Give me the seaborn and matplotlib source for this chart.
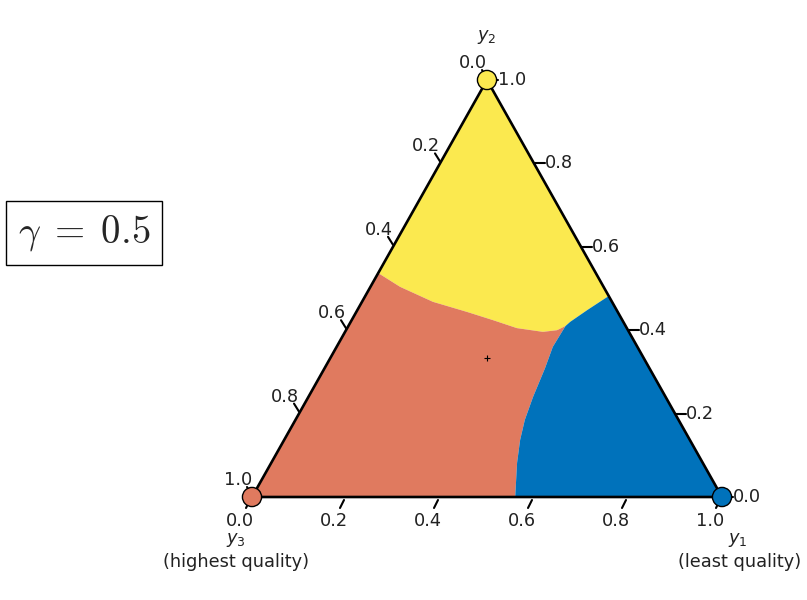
import numpy as np
import matplotlib
matplotlib.use("Agg")
import matplotlib.pyplot as plt
import seaborn as sns

# ---- data (barycentric: y1 = bottom axis, y2 = right axis, y3 = 1 - y1 - y2) ----
tick_vals = [0.0, 0.2, 0.4, 0.6, 0.8, 1.0]
tick_labels = ["0.0", "0.2", "0.4", "0.6", "0.8", "1.0"]

# yellow / red boundary, left edge -> triple point
yr_y1 = [0.0, 0.063, 0.151, 0.235, 0.301, 0.361, 0.421, 0.449, 0.462]
yr_y2 = [0.537, 0.504, 0.468, 0.444, 0.424, 0.405, 0.396, 0.400, 0.410]
# yellow / blue boundary, triple point -> right edge
yb_y1 = [0.462, 0.467, 0.489, 0.518]
yb_y2 = [0.410, 0.420, 0.448, 0.482]
# red / blue boundary, triple point -> bottom edge
rb_y1 = [0.462, 0.460, 0.469, 0.478, 0.488, 0.502, 0.523, 0.560]
rb_y2 = [0.410, 0.360, 0.309, 0.240, 0.185, 0.137, 0.082, 0.0]

vert_y1 = [1.0, 0.0, 0.0]
vert_y2 = [0.0, 1.0, 0.0]
vert_col = ["#0072BB", "#FBE94F", "#E07A5F"]
col_yellow, col_red, col_blue = "#FBE94F", "#E07A5F", "#0072BB"

H = np.sqrt(3) / 2


def to_xy(y1, y2):
    y1 = np.asarray(y1, float)
    y2 = np.asarray(y2, float)
    return y1 + y2 / 2, y2 * H


sns.set_style("white")
plt.rcParams["font.family"] = ["DejaVu Sans"]

fig = plt.figure(figsize=(8.07, 6.0), dpi=100)
ax = fig.add_axes([0, 0, 1, 1])
ax.set_xlim(-252 / 470, 555 / 470)
ax.set_ylim(-103 / 417 * H, 497 / 417 * H)
ax.axis("off")

px = 1 / 470          # data units per pixel (x)
py = H / 417          # data units per pixel (y)

# ---- regions ----
yel_a = [0.0] + yr_y1 + yb_y1[1:]
yel_b = [1.0] + yr_y2 + yb_y2[1:]
red_a = [0.0] + yr_y1 + rb_y1[1:]
red_b = [0.0] + yr_y2 + rb_y2[1:]
blu_a = [1.0] + yb_y1[::-1] + rb_y1[1:]
blu_b = [0.0] + yb_y2[::-1] + rb_y2[1:]
for a, b, c in [(yel_a, yel_b, col_yellow), (red_a, red_b, col_red), (blu_a, blu_b, col_blue)]:
    x, y = to_xy(a, b)
    ax.fill(x, y, color=c, lw=0, zorder=1)

# ---- triangle ----
tx, ty = to_xy([0, 1, 0, 0], [0, 0, 1, 0])
ax.plot(tx, ty, color="black", lw=1.9, zorder=3, solid_joinstyle="miter")

# ---- ticks and labels ----
tc = "#222222"
fs = 12.8
for v, lab in zip(tick_vals, tick_labels):
    # bottom axis (y1)
    x0, y0 = to_xy(v, 0)
    ax.plot([x0 - 2 * px, x0 - 6 * px], [y0 - 3 * py, y0 - 11 * py], color="black", lw=1.5, zorder=3)
    ax.annotate(lab, (x0, y0), xytext=(-12, -24), textcoords="offset pixels",
                ha="center", va="center", fontsize=fs, color=tc)
    # left axis (y3)
    x0, y0 = to_xy(0, 1 - v)
    ax.plot([x0, x0 - 5 * px], [y0 + 2 * py, y0 + 10 * py], color="black", lw=1.5, zorder=3)
    ax.annotate(lab, (x0, y0), xytext=(-14, 17), textcoords="offset pixels",
                ha="center", va="center", fontsize=fs, color=tc)
    # right axis (y2)
    x0, y0 = to_xy(1 - v, v)
    ax.plot([x0 + 1 * px, x0 + 11 * px], [y0, y0], color="black", lw=1.5, zorder=3)
    ax.annotate(lab, (x0, y0), xytext=(11, 0), textcoords="offset pixels",
                ha="left", va="center", fontsize=fs, color=tc)

# ---- vertex markers ----
vx, vy = to_xy(vert_y1, vert_y2)
sns.scatterplot(x=vx, y=vy, hue=list(range(3)), palette=vert_col, s=190,
                edgecolor="black", linewidth=1.0, legend=False, zorder=5, clip_on=False, ax=ax)

# centre marker
cx, cy = to_xy([1 / 3], [1 / 3])
ax.plot(cx, cy, marker="+", color="black", ms=5, mew=0.8, zorder=4)

# ---- corner labels ----
x0, y0 = to_xy(0, 0)
ax.annotate("$y_3$", (x0, y0), xytext=(-16, -43), textcoords="offset pixels",
            ha="center", va="center", fontsize=fs, color=tc)
ax.annotate("(highest quality)", (x0, y0), xytext=(-16, -65), textcoords="offset pixels",
            ha="center", va="center", fontsize=fs, color=tc)
x0, y0 = to_xy(1, 0)
ax.annotate("$y_1$", (x0, y0), xytext=(16, -43), textcoords="offset pixels",
            ha="center", va="center", fontsize=fs, color=tc)
ax.annotate("(least quality)", (x0, y0), xytext=(18, -65), textcoords="offset pixels",
            ha="center", va="center", fontsize=fs, color=tc)
x0, y0 = to_xy(0, 1)
ax.annotate("$y_2$", (x0, y0), xytext=(0, 43), textcoords="offset pixels",
            ha="center", va="center", fontsize=fs, color=tc)

# ---- gamma box ----
fig.text(84 / 807, 1 - 233 / 600, r"$\gamma\;=\;0.5$", fontsize=28, math_fontfamily="cm",
         ha="center", va="center",
         bbox=dict(boxstyle="square,pad=0.3", fc="white", ec="black", lw=1.0))

fig.savefig("out.png", dpi=100)
